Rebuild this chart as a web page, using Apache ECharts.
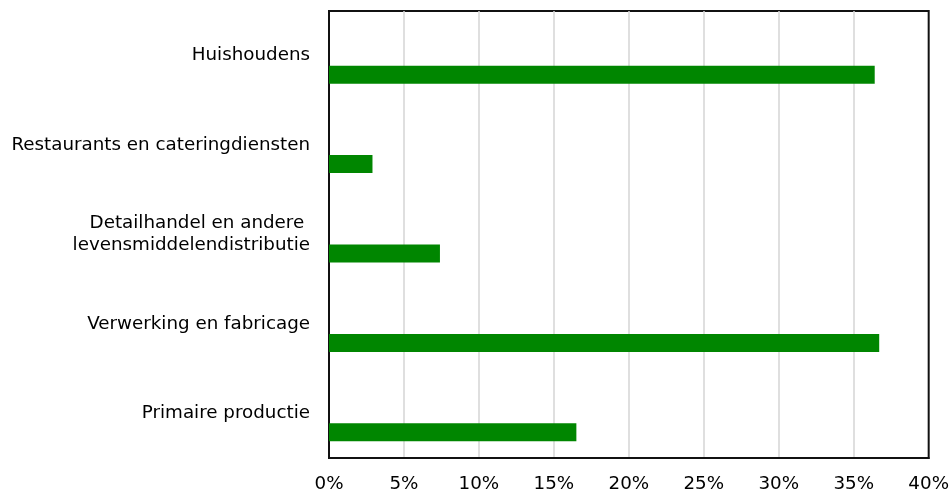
<!DOCTYPE html>
<html>
<head>
<meta charset="utf-8">
<script src="https://cdn.jsdelivr.net/npm/echarts@6/dist/echarts.min.js"></script>
<style>
  html, body { margin: 0; padding: 0; background: #fff; }
  #chart { width: 952px; height: 493px; }
</style>
</head>
<body>
<div id="chart"></div>
<script>
const categories = [
  'Huishoudens',
  'Restaurants en cateringdiensten',
  'Detailhandel en andere \nlevensmiddelendistributie',
  'Verwerking en fabricage',
  'Primaire productie'
]
const shares = [36.4, 2.9, 7.4, 36.7, 16.5]
const xTicks = { min: 0, max: 40, step: 5 }

const chart = echarts.init(document.getElementById('chart'))
const font = '"DejaVu Sans", Verdana, sans-serif'

chart.setOption({
  animation: false,
  textStyle: { fontFamily: font },
  grid: {
    left: 329, right: 21, top: 11, bottom: 34,
    show: true, borderColor: '#111', borderWidth: 2
  },
  xAxis: {
    type: 'value',
    min: xTicks.min, max: xTicks.max, interval: xTicks.step,
    axisLine: { show: true, lineStyle: { color: '#111', width: 2 } },
    axisTick: { show: false },
    splitLine: { showMinLine: false, showMaxLine: false, lineStyle: { color: '#d4d4d4', width: 1.5 } },
    axisLabel: {
      formatter: '{value}%', color: '#000', fontSize: 18.3, margin: 17, fontFamily: font
    }
  },
  yAxis: {
    type: 'category',
    data: categories,
    inverse: true,
    axisLine: { show: true, lineStyle: { color: '#111', width: 2 } },
    axisTick: { show: false },
    axisLabel: {
      color: '#000', fontSize: 18.3, margin: 19, fontFamily: font,
      lineHeight: 22, padding: [4, 0, 0, 0]
    }
  },
  series: [
    { type: 'bar', data: categories.map(() => '-'), barWidth: 18, barGap: '111%' },
    { type: 'bar', data: shares, barWidth: 18, barGap: '111%', itemStyle: { color: '#008600' } }
  ]
})
</script>
</body>
</html>
